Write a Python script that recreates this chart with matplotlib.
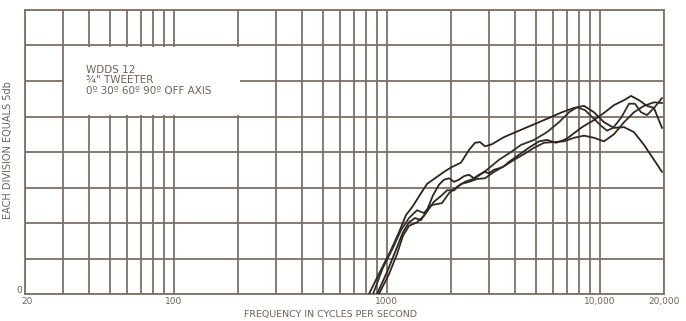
import matplotlib
matplotlib.use('Agg')
import matplotlib.pyplot as plt
import matplotlib.patches as patches
import matplotlib.transforms as mtrans
import numpy as np

# frequency response curves, 0/30/60/90 deg off axis (Hz, dB above chart floor)
freq_a = [824, 938, 1046, 1140, 1229, 1326, 1446, 1543, 1682, 1854, 2023, 2228, 2430, 2594,
          2736, 2888, 3115, 3548, 4170, 4908, 5770, 6638, 7552, 8420, 9384, 10450, 11640,
          12990, 14460, 16110, 17950, 19570]
level_a = [0, 3.4, 6.2, 8.7, 11.1, 12.4, 14.2, 15.5, 16.3, 17.2, 17.9, 18.5, 20.3, 21.3,
           21.4, 20.8, 21.1, 22.1, 23.0, 23.9, 24.8, 25.6, 26.2, 26.5, 25.6, 24.2, 23.4,
           23.5, 22.8, 21.0, 18.9, 17.2]

freq_b = [861, 958, 1068, 1165, 1270, 1385, 1494, 1610, 1814, 1958, 2135, 2327, 2594, 2952,
          3360, 3826, 4264, 4908, 5646, 6430, 7160, 7810, 8512, 9286, 10120, 10800, 11530,
          12570, 13700, 14610, 15600, 16640, 17950, 19570]
level_b = [0, 3.7, 6.5, 9.0, 10.7, 11.8, 11.4, 12.5, 12.8, 14.2, 15.1, 15.8, 16.3, 17.5,
           18.9, 20.0, 21.0, 21.7, 22.8, 24.2, 25.6, 26.3, 25.9, 24.8, 23.7, 23.0, 23.4,
           24.8, 26.8, 26.8, 25.6, 25.2, 26.2, 27.6]

freq_c = [899, 1002, 1092, 1190, 1270, 1355, 1446, 1543, 1646, 1757, 1854, 1958, 2067, 2180,
          2302, 2430, 2564, 2707, 2888, 3015, 3182, 3360, 3548, 3740, 4170, 4640, 5180, 5646,
          6222, 6790, 7160, 8242, 9384, 10450, 11640, 12990, 14000, 15260, 16640, 17950, 19570]
level_c = [0, 3.1, 5.9, 8.7, 10.1, 10.7, 10.4, 11.8, 13.9, 15.4, 16.1, 16.3, 15.8, 16.1,
           16.6, 16.8, 16.3, 16.8, 17.2, 17.0, 17.5, 17.7, 18.0, 18.6, 19.6, 20.6, 21.5, 21.7,
           21.3, 21.7, 22.1, 23.5, 24.5, 25.5, 26.6, 27.3, 27.9, 27.3, 26.5, 26.2, 23.4]

freq_d = [918, 1023, 1115, 1190, 1270, 1385, 1494, 1664, 1795, 1915, 2067, 2228, 2430, 2651,
          2888, 3182, 3548, 3954, 4406, 4908, 5466, 6092, 6790, 7552, 8420, 9384, 10450,
          11640, 12990, 14460, 16110, 17950, 19570]
level_d = [0, 2.8, 5.6, 8.2, 9.6, 10.1, 11.0, 13.0, 13.8, 14.6, 14.6, 15.5, 15.8, 16.2,
           16.3, 17.2, 18.0, 18.9, 19.7, 20.6, 21.3, 21.4, 21.5, 22.0, 22.3, 22.0, 21.5,
           22.5, 24.2, 25.6, 26.5, 27.0, 26.9]

major_f = [20, 100, 1000, 10000, 20000]
major_labels = ['20', '100', '1000', '10,000', '20,000']
minor_f = [30, 40, 50, 60, 70, 80, 90, 200, 300, 400, 500, 600, 700, 800, 900,
           2000, 3000, 4000, 5000, 6000, 7000, 8000, 9000]

grid_col = '#7e6f66'
text_col = '#6f625c'
ink = '#2e2420'

plt.rcParams['font.family'] = ['DejaVu Sans']

fig = plt.figure(figsize=(6.86, 3.21), dpi=100)
ax = fig.add_axes([25/686, 27/321, 639/686, 284/321])

ax.set_xscale('log')
ax.set_xlim(20, 20000)
ax.set_ylim(0, 40)

ax.set_xticks(major_f)
ax.set_xticklabels(major_labels)
ax.set_xticks(minor_f, minor=True)
ax.xaxis.set_minor_formatter(matplotlib.ticker.NullFormatter())
ax.set_yticks(np.arange(0, 41, 5))
ax.set_yticklabels(['0'] + [''] * 8)
ax.tick_params(which='both', length=0, labelsize=6.5, colors=text_col, pad=2.5)
ax.tick_params(axis='y', pad=2)

# "0" sits just above the floor line, "20" a little right of the corner
ylab0 = ax.get_yticklabels()[0]
ylab0.set_va('bottom')
ylab0.set_transform(ylab0.get_transform() + mtrans.ScaledTranslation(0, -1/100, fig.dpi_scale_trans))
xlab0 = ax.get_xticklabels()[0]
xlab0.set_transform(xlab0.get_transform() + mtrans.ScaledTranslation(2/100, 0, fig.dpi_scale_trans))

ax.grid(True, which='both', color=grid_col, linewidth=1.3)
ax.set_axisbelow(True)
for s in ax.spines.values():
    s.set_color(grid_col)
    s.set_linewidth(1.3)

# white label panel that interrupts the grid
box = patches.Rectangle((30.4, 25.15), 205 - 30.4, 34.85 - 25.15,
                        facecolor='white', edgecolor='none', zorder=1.5)
ax.add_patch(box)
ax.text(38.5, 30.1, 'WDDS 12\n¾" TWEETER\n0º 30º 60º 90º OFF AXIS',
        fontsize=7.5, color=text_col, va='center', ha='left', linespacing=1.05, zorder=3)

ax.plot(freq_a, level_a, color=ink, lw=1.3, solid_joinstyle='round', zorder=4)
ax.plot(freq_b, level_b, color='#2f3327', lw=1.3, solid_joinstyle='round', zorder=4)
ax.plot(freq_c, level_c, color=ink, lw=1.3, solid_joinstyle='round', zorder=4)
ax.plot(freq_d, level_d, color='#33291f', lw=1.3, solid_joinstyle='round', zorder=4)

fig.text(8/686, 1 - 150/321, 'EACH DIVISION EQUALS 5db', rotation=90, fontsize=7,
         color=text_col, ha='center', va='center')
fig.text(331/686, 1 - 314.5/321, 'FREQUENCY IN CYCLES PER SECOND', fontsize=6.8,
         color=text_col, ha='center', va='center')

plt.savefig('out.png', dpi=100, facecolor='white')
